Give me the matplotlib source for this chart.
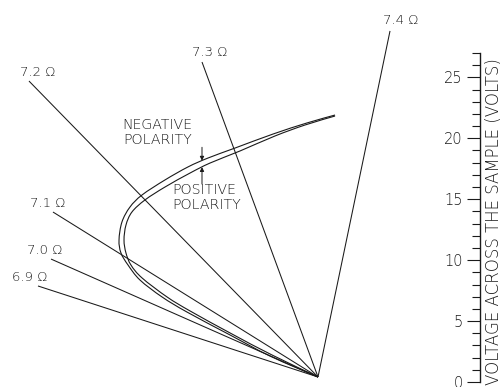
import numpy as np
import matplotlib
matplotlib.use("Agg")
import matplotlib.pyplot as plt
from matplotlib.path import Path
from matplotlib.patches import PathPatch
from matplotlib.ticker import MultipleLocator

plt.rcParams['font.family'] = ['DejaVu Sans']

# Load lines: common operating point and far ends (horizontal offset, volts)
resistances = ["6.9", "7.0", "7.1", "7.2", "7.3", "7.4"]
origin_x, origin_v = 0.0, 0.41
load_end_x = [-22.98, -21.91, -21.75, -23.72, -9.52, 5.91]
load_end_v = [7.88, 10.09, 13.95, 24.70, 26.26, 28.81]

# Characteristic curves for the two polarities
neg_x = [1.40, -0.90, -3.69, -6.81, -9.03, -10.67, -12.56, -14.44, -15.43, -16.09,
         -16.33, -16.17, -15.59, -14.61, -12.80, -10.75, -7.22, -3.94, 0.00]
neg_v = [21.91, 21.26, 20.35, 19.20, 18.38, 17.65, 16.58, 15.35, 14.36, 13.13,
         11.65, 10.59, 9.60, 8.37, 6.98, 5.74, 3.86, 2.13, 0.41]
pos_x = [1.40, -1.07, -3.53, -6.40, -8.86, -10.50, -12.56, -14.20, -15.27, -15.76,
         -15.92, -15.76, -15.35, -14.44, -12.39, -10.50, -7.06, -3.78, 0.00]
pos_v = [21.83, 21.09, 20.19, 18.96, 17.97, 17.15, 16.00, 14.94, 13.95, 12.88,
         11.65, 10.59, 9.60, 8.54, 6.98, 5.83, 3.94, 2.22, 0.41]

volt_ticks = [0, 5, 10, 15, 20, 25]
volt_max = 27
arrow_x = -9.52

W, H = 502, 387
PX_PER_UNIT = 12.185
ORIGIN_PX = (318, 5)  # pixel position of x=0, v=0 (from left, from bottom)

fig = plt.figure(figsize=(W / 100, H / 100), dpi=100)
fig.patch.set_facecolor('white')
ax = fig.add_axes([0, 0, 1, 1])
ax.set_xlim(-ORIGIN_PX[0] / PX_PER_UNIT, (W - ORIGIN_PX[0]) / PX_PER_UNIT)
ax.set_ylim(-ORIGIN_PX[1] / PX_PER_UNIT, (H - ORIGIN_PX[1]) / PX_PER_UNIT)
ax.axis('off')

ink = '#1a1a1a'
font = dict(family='DejaVu Sans', fontweight='light', color=ink)


def smooth_path(xs, ys):
    pts = np.column_stack([xs, ys])
    ext = np.vstack([pts[0], pts, pts[-1]])
    verts = [pts[0]]
    codes = [Path.MOVETO]
    for i in range(1, len(ext) - 2):
        p0, p1, p2, p3 = ext[i - 1], ext[i], ext[i + 1], ext[i + 2]
        verts += [p1 + (p2 - p0) / 6.0, p2 - (p3 - p1) / 6.0, p2]
        codes += [Path.CURVE4] * 3
    return Path(np.array(verts), codes)


# load lines and their labels
label_offsets = [(-26, 9), (-24, 9), (-23, 9), (-9, 9), (-10, 10), (-7, 11)]
for r, ex, ev, off in zip(resistances, load_end_x, load_end_v, label_offsets):
    ax.plot([origin_x, ex], [origin_v, ev], color=ink, lw=0.75,
            solid_capstyle='butt')
    ax.annotate(f"{r} \u03a9", xy=(ex, ev), xytext=off, textcoords='offset pixels',
                ha='left', va='center', fontsize=9.5, **font)

# the two characteristic curves
for xs, vs in ((neg_x, neg_v), (pos_x, pos_v)):
    ax.add_patch(PathPatch(smooth_path(xs, vs), fill=False, edgecolor=ink, lw=0.8))

# arrows pointing at each curve's upper branch
nose_n = int(np.argmin(neg_x))
nose_p = int(np.argmin(pos_x))
tip_neg = np.interp(arrow_x, neg_x[:nose_n + 1][::-1], neg_v[:nose_n + 1][::-1])
tip_pos = np.interp(arrow_x, pos_x[:nose_p + 1][::-1], pos_v[:nose_p + 1][::-1])
arrow = dict(arrowstyle='-|>', lw=0.7, color=ink, mutation_scale=6,
             shrinkA=0, shrinkB=0)
ax.annotate('', xy=(arrow_x, tip_neg), xytext=(arrow_x, tip_neg + 1.1), arrowprops=arrow)
ax.annotate('', xy=(arrow_x, tip_pos), xytext=(arrow_x, tip_pos - 1.4), arrowprops=arrow)

ax.text(-13.2, 20.5, "NEGATIVE\nPOLARITY", ha='center', va='center',
        fontsize=10.2, linespacing=1.1, **font)
ax.text(-11.98, 15.14, "POSITIVE\nPOLARITY", ha='left', va='center',
        multialignment='left', fontsize=10.2, linespacing=1.1, **font)

# voltage scale
ax2 = fig.add_axes([480 / W, ORIGIN_PX[1] / H, 0.002, volt_max * PX_PER_UNIT / H])
ax2.set_ylim(0, volt_max)
ax2.patch.set_alpha(0)
for side in ('top', 'right', 'bottom'):
    ax2.spines[side].set_visible(False)
ax2.spines['left'].set_linewidth(1.0)
ax2.spines['left'].set_color(ink)
ax2.set_xticks([])
ax2.set_yticks(volt_ticks)
ax2.yaxis.set_minor_locator(MultipleLocator(1))
ax2.yaxis.set_ticks_position('left')
ax2.tick_params(axis='y', which='major', direction='out', length=9.4, width=0.8,
                pad=3, labelsize=10.5, colors=ink)
ax2.tick_params(axis='y', which='minor', direction='out', length=5.8, width=0.8,
                colors=ink)
for t in ax2.get_yticklabels():
    t.set_fontweight('light')
ax2.yaxis.set_label_position('right')
ax2.set_ylabel("VOLTAGE ACROSS THE SAMPLE (VOLTS)", fontsize=12, **font)
ax2.yaxis.label.set_rotation(90)
ax2.yaxis.set_label_coords(494 / W, 1 - 222 / H, transform=fig.transFigure)
ax2.yaxis.label.set_ha('center')
ax2.yaxis.label.set_va('center')
ax2.yaxis.label.set_rotation_mode('default')

fig.savefig("out.png", dpi=100)
